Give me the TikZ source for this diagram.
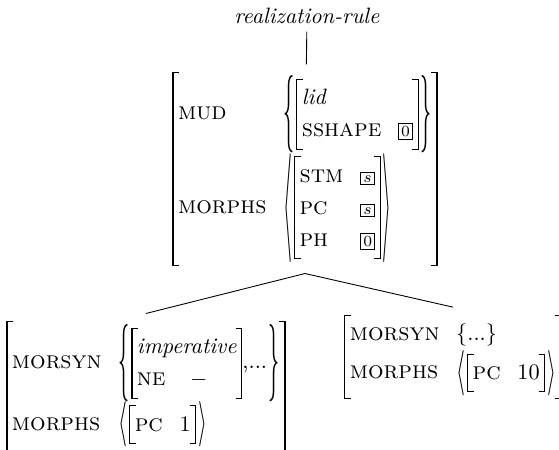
\documentclass[tikz,border=0pt]{standalone}
\usepackage{amsmath}
\usepackage{graphicx}
\usetikzlibrary{positioning}

\newdimen\avmht \newdimen\avmdp \newdimen\avmtot
\newbox\avmbox
\newcommand{\attr}[1]{{\fontsize{11}{13}\selectfont\textsc{#1}}}
\newcommand{\tagbox}[1]{{\setlength{\fboxsep}{1pt}\fbox{\scriptsize #1}}}
\newcommand{\sqbr}[1]{\hbox{\setbox\avmbox=\hbox{#1}%
    \avmht=\dimexpr\ht\avmbox+1.5pt\relax \avmdp=\dimexpr\dp\avmbox+1.5pt\relax
    \vrule width0.6pt height\avmht depth\avmdp
    \rlap{\vrule width2.5pt height\avmht depth-\dimexpr\avmht-0.5pt\relax}%
    \rlap{\vrule width2.5pt height-\dimexpr\avmdp-0.5pt\relax depth\avmdp}%
    \hspace{2pt}\box\avmbox\hspace{2pt}%
    \llap{\vrule width2.5pt height\avmht depth-\dimexpr\avmht-0.5pt\relax}%
    \llap{\vrule width2.5pt height-\dimexpr\avmdp-0.5pt\relax depth\avmdp}%
    \vrule width0.6pt height\avmht depth\avmdp}}
\newcommand{\fence}[4]{\hbox{\setbox\avmbox=\hbox{#3}%
    \avmdp=\dimexpr\dp\avmbox+1.5pt\relax
    \avmtot=\dimexpr\ht\avmbox+\dp\avmbox+3pt\relax
    \raisebox{-\avmdp}{\resizebox*{#1}{\avmtot}{\raisebox{\depth}{$#2$}}}%
    \hspace{0.8pt}\box\avmbox\hspace{0.8pt}%
    \raisebox{-\avmdp}{\resizebox*{#1}{\avmtot}{\raisebox{\depth}{$#4$}}}}}
\newcommand{\avm}[1]{\sqbr{$\begin{array}{@{}l@{\hspace{0.75em}}l@{}}#1\end{array}$}}
\newcommand{\avmcol}[1]{\sqbr{$\begin{array}{@{}l@{}}#1\end{array}$}}
\newcommand{\avmset}[1]{\fence{5pt}{\{}{$#1$}{\}}}
\newcommand{\avmlist}[1]{\fence{4pt}{\langle}{$#1$}{\rangle}}
\renewcommand{\arraystretch}{1.2}

\begin{document}
\begin{tikzpicture}[x=0.45pt,y=-0.45pt]
                \useasboundingbox (0,0) rectangle (559,450);
                \node (rule) at (307,16) {\textit{realization-rule}};
                \node (mother) at (305,169) {$\avm{
                    \attr{mud} & \avmset{\avm{\multicolumn{2}{@{}l@{}}{\textit{lid}} \\ \attr{sshape} & \tagbox{0}}} \\
                    \attr{morphs} & \avmlist{\avm{\attr{stm} & \tagbox{$s$} \\ \attr{pc} & \tagbox{$s$} \\ \attr{ph} & \tagbox{0}}}}$};
                \node (imp) at (146,386) {$\avm{
                    \attr{morsyn} & \avmset{\avmcol{\textit{imperative} \\ \attr{ne}\hspace{1.1em}-}\text{,...}} \\
                    \attr{morphs} & \avmlist{\avm{\attr{pc} & 1}}}$};
                \node (other) at (453,357) {$\avm{
                    \attr{morsyn} & \{\text{...}\} \\
                    \attr{morphs} & \avmlist{\avm{\attr{pc} & 10}}}$};

                \draw (rule) to (mother); \draw (mother.south) to (imp.north); \draw (mother.south) to (other.north);
            \end{tikzpicture}
\end{document}
